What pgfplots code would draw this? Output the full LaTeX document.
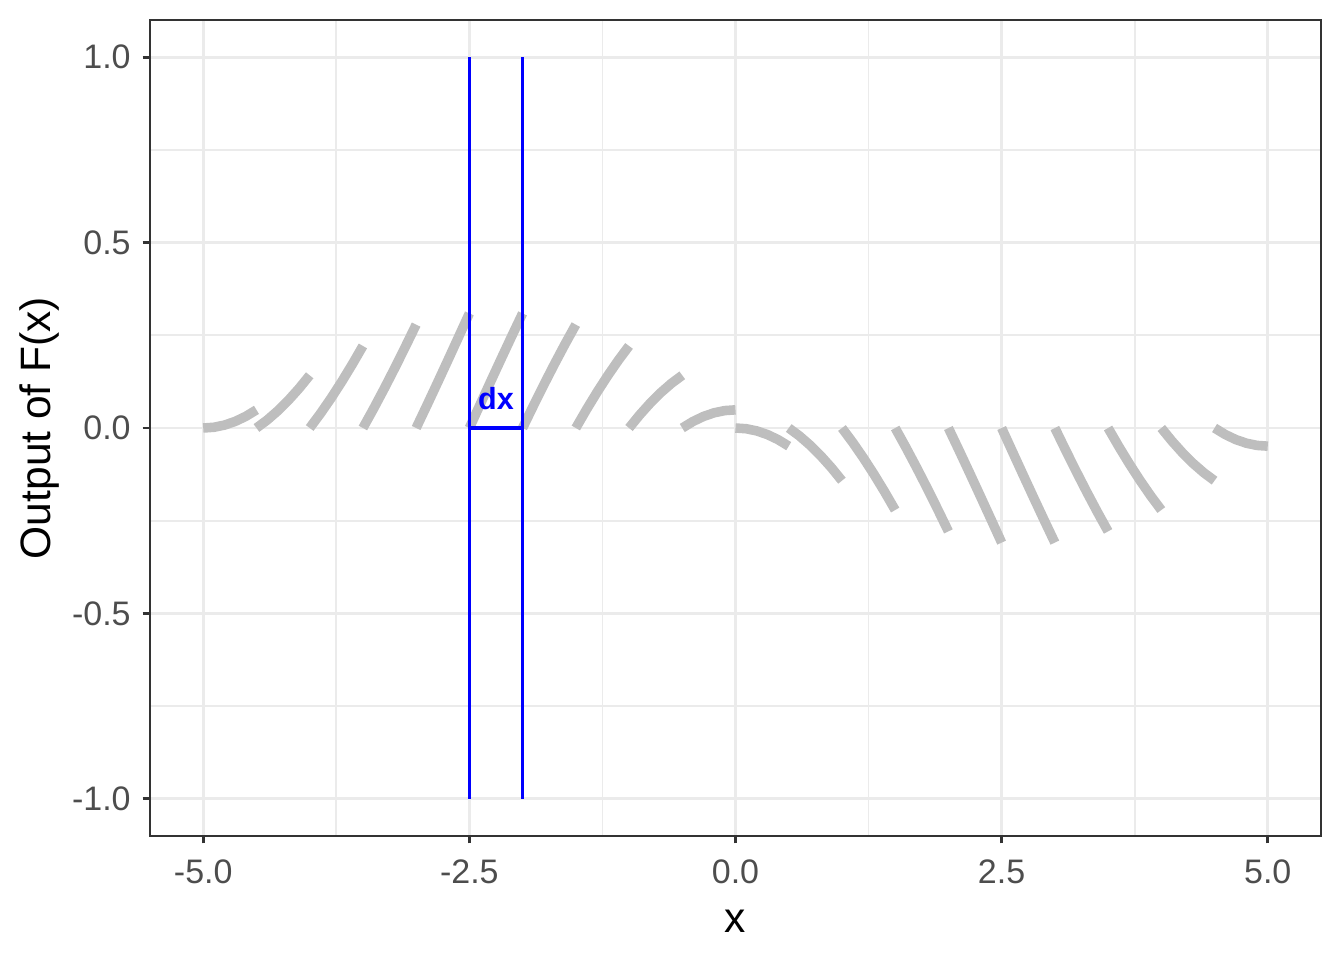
\documentclass[border=0pt]{standalone}
\usepackage{pgfplots}
\pgfplotsset{compat=1.18}
\usepackage{fontspec}
\setmainfont{Liberation Sans}
\definecolor{gridc}{HTML}{EBEBEB}
\definecolor{g20}{HTML}{333333}
\definecolor{g30}{HTML}{4D4D4D}
\definecolor{segc}{HTML}{BEBEBE}
\tikzset{piece/.style={segc,line width=3.6pt,line cap=butt,line join=round,mark=none}}
\begin{document}
\begin{tikzpicture}
\path (0,0) rectangle (7in,5in);
\begin{axis}[%
anchor=south west,
at={(0.78125in,0.6458in)},
width=6.099in,
height=4.25in,
scale only axis,
xmin=-5.5, xmax=5.5,
ymin=-1.1, ymax=1.1,
xtick={-5,-2.5,0,2.5,5},
xticklabels={-5.0,-2.5,0.0,2.5,5.0},
ytick={-1,-0.5,0,0.5,1},
yticklabels={-1.0,-0.5,0.0,0.5,1.0},
minor xtick={-3.75,-1.25,1.25,3.75},
minor ytick={-0.75,-0.25,0.25,0.75},
xmajorgrids, ymajorgrids, xminorgrids, yminorgrids,
major grid style={gridc,line width=1.1pt},
minor grid style={gridc,line width=0.7pt},
axis line style={g20,line width=0.8pt},
tick align=outside,
tickpos=left,
major tick length=2.75pt,
minor tick length=0pt,
major tick style={g20,line width=1.1pt},
ticklabel style={font=\fontsize{12.8}{14}\selectfont,text=g30},
xticklabel style={yshift=-2.5pt},
yticklabel style={xshift=-1pt},
xlabel={x},
ylabel={Output of F(x)},
label style={font=\fontsize{16}{18}\selectfont},
xlabel style={yshift=-3pt},
ylabel style={yshift=-2pt},
]
% each piece: F(x)-F(a) on [a,a+0.5], F(x)=cos(pi x/5)
\addplot[piece] coordinates {(-5.0,0) (-4.9,0.00197) (-4.8,0.00789) (-4.7,0.01771) (-4.6,0.03142) (-4.5,0.04894)};
\addplot[piece] coordinates {(-4.5,0) (-4.4,0.02128) (-4.3,0.04623) (-4.2,0.07475) (-4.1,0.10673) (-4.0,0.14204)};
\addplot[piece] coordinates {(-4.0,0) (-3.9,0.03851) (-3.8,0.08005) (-3.7,0.12447) (-3.6,0.17160) (-3.5,0.22123)};
\addplot[piece] coordinates {(-3.5,0) (-3.4,0.05196) (-3.3,0.10604) (-3.2,0.16201) (-3.1,0.21967) (-3.0,0.27877)};
\addplot[piece] coordinates {(-3.0,0) (-2.9,0.06033) (-2.8,0.12164) (-2.7,0.18369) (-2.6,0.24623) (-2.5,0.30902)};
\addplot[piece] coordinates {(-2.5,0) (-2.4,0.06279) (-2.3,0.12533) (-2.2,0.18738) (-2.1,0.24869) (-2.0,0.30902)};
\addplot[piece] coordinates {(-2.0,0) (-1.9,0.05910) (-1.8,0.11676) (-1.7,0.17273) (-1.6,0.22681) (-1.5,0.27877)};
\addplot[piece] coordinates {(-1.5,0) (-1.4,0.04963) (-1.3,0.09676) (-1.2,0.14118) (-1.1,0.18272) (-1.0,0.22123)};
\addplot[piece] coordinates {(-1.0,0) (-0.9,0.03531) (-0.8,0.06729) (-0.7,0.09581) (-0.6,0.12076) (-0.5,0.14204)};
\addplot[piece] coordinates {(-0.5,0) (-0.4,0.01752) (-0.3,0.03123) (-0.2,0.04105) (-0.1,0.04697) (0.0,0.04894)};
\addplot[piece] coordinates {(0.0,0) (0.1,-0.00197) (0.2,-0.00789) (0.3,-0.01771) (0.4,-0.03142) (0.5,-0.04894)};
\addplot[piece] coordinates {(0.5,0) (0.6,-0.02128) (0.7,-0.04623) (0.8,-0.07475) (0.9,-0.10673) (1.0,-0.14204)};
\addplot[piece] coordinates {(1.0,0) (1.1,-0.03851) (1.2,-0.08005) (1.3,-0.12447) (1.4,-0.17160) (1.5,-0.22123)};
\addplot[piece] coordinates {(1.5,0) (1.6,-0.05196) (1.7,-0.10604) (1.8,-0.16201) (1.9,-0.21967) (2.0,-0.27877)};
\addplot[piece] coordinates {(2.0,0) (2.1,-0.06033) (2.2,-0.12164) (2.3,-0.18369) (2.4,-0.24623) (2.5,-0.30902)};
\addplot[piece] coordinates {(2.5,0) (2.6,-0.06279) (2.7,-0.12533) (2.8,-0.18738) (2.9,-0.24869) (3.0,-0.30902)};
\addplot[piece] coordinates {(3.0,0) (3.1,-0.05910) (3.2,-0.11676) (3.3,-0.17273) (3.4,-0.22681) (3.5,-0.27877)};
\addplot[piece] coordinates {(3.5,0) (3.6,-0.04963) (3.7,-0.09676) (3.8,-0.14118) (3.9,-0.18272) (4.0,-0.22123)};
\addplot[piece] coordinates {(4.0,0) (4.1,-0.03531) (4.2,-0.06729) (4.3,-0.09581) (4.4,-0.12076) (4.5,-0.14204)};
\addplot[piece] coordinates {(4.5,0) (4.6,-0.01752) (4.7,-0.03123) (4.8,-0.04105) (4.9,-0.04697) (5.0,-0.04894)};
% dx marker
\addplot[blue,line width=1.4pt,mark=none] coordinates {(-2.5,-1) (-2.5,1)};
\addplot[blue,line width=1.4pt,mark=none] coordinates {(-2.0,-1) (-2.0,1)};
\addplot[blue,line width=1.4pt,mark=none] coordinates {(-2.5,0) (-2.0,0)};
\node[text=blue,font=\fontsize{11.5}{13}\selectfont\bfseries] at (axis cs:-2.25,0.078) {dx};
\end{axis}
\end{tikzpicture}
\end{document}
